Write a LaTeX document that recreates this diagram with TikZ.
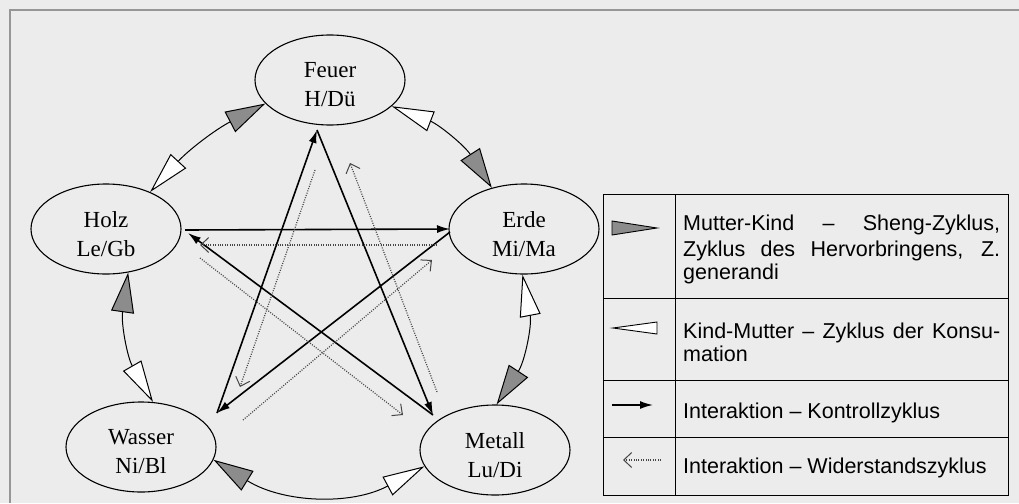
\documentclass[tikz,border=0pt]{standalone}
\usepackage{fontspec}
\setmainfont{Liberation Serif}
\newfontfamily\legfont{Liberation Sans}
\usetikzlibrary{shapes.geometric,arrows.meta}
\definecolor{bg}{RGB}{236,236,236}
\definecolor{shenggray}{RGB}{140,140,140}
\definecolor{dotgray}{RGB}{70,70,70}
\definecolor{framegray}{RGB}{150,150,150}
\begin{document}
\begin{tikzpicture}[x=1pt,y=-1pt,
  elem/.style={draw, ellipse, line width=1.1pt, minimum width=150pt, minimum height=90pt,
    inner sep=0pt},
  etxt/.style={align=center, inner sep=0pt, font=\fontsize{23}{29}\selectfont, yshift=-5pt},
  sheng/.style={line width=1pt,
    {Triangle[length=42pt,width=21pt,fill=white,line width=1pt]}-{Triangle[length=40pt,width=23pt,fill=shenggray,line width=1pt]}},
  ko/.style={line width=1.6pt, -{Latex[length=13pt,width=8pt]}},
  wider/.style={line width=1.2pt, dash pattern=on 1pt off 1.4pt, draw=dotgray,
    -{Straight Barb[length=8pt,width=15pt,line width=1pt]}},
  legtext/.style={font=\legfont\fontsize{21.5}{25}\selectfont, anchor=base west, inner sep=0pt},
  grid/.style={line width=1pt}
]
\fill[bg] (0,0) rectangle (1019,503);
\useasboundingbox (0,0) rectangle (1019,503);
\draw[framegray, line width=1.5pt] (10,503) -- (10,10) -- (1019,10);

% elements
\node[elem, label={[etxt]center:Feuer\\H/Dü}]   (feuer)  at (330,80)  {};
\node[elem, label={[etxt]center:Holz\\Le/Gb}]   (holz)   at (106,229) {};
\node[elem, label={[etxt]center:Erde\\Mi/Ma}]   (erde)   at (524,229) {};
\node[elem, label={[etxt]center:Wasser\\Ni/Bl}] (wasser) at (141,447) {};
\node[elem, label={[etxt]center:Metall\\Lu/Di}] (metall) at (495,450) {};

% Sheng cycle (outer arcs)
\draw[sheng] (holz.40)    to[bend left=10] (feuer.200);
\draw[sheng] (feuer.337)  to[bend left=18] (erde.128);
\draw[sheng] (erde.268)   to[bend left=22] (metall.88);
\draw[sheng] (metall.193) to[bend left=30] (wasser.350);
\draw[sheng] (wasser.75)  to[bend left=19] (holz.297);

% star vertices (control cycle)
\coordinate (fv)  at (317,130);
\coordinate (ev)  at (450,229);
\coordinate (ev2) at (450,232);
\coordinate (mv)  at (433,415);
\coordinate (wv)  at (217,413);
\coordinate (hv)  at (185,230);
\coordinate (hv2) at (188,233);

% control cycle (solid)
\draw[ko] (hv)  -- (ev);
\draw[ko] (ev2) -- (wv);
\draw[ko] (wv)  -- (fv);
\draw[ko] (fv)  -- (mv);
\draw[ko] (mv)  -- (hv2);

% resistance cycle (dotted)
\coordinate (e1) at (437,245); \coordinate (h1) at (200,245);
\coordinate (f1) at (315,170); \coordinate (w1) at (240,387);
\coordinate (m1) at (437,392); \coordinate (f2) at (350,163);
\coordinate (h2) at (200,258); \coordinate (m2) at (403,415);
\coordinate (w2) at (243,420); \coordinate (e2) at (432,260);
\draw[wider] (e1) -- (h1);
\draw[wider] (f1) -- (w1);
\draw[wider] (m1) -- (f2);
\draw[wider] (h2) -- (m2);
\draw[wider] (w2) -- (e2);

% legend
\draw[grid] (603,194) rectangle (1008,495);
\draw[grid] (675,194) -- (675,495);
\draw[grid] (603,298) -- (1008,298);
\draw[grid] (603,380) -- (1008,380);
\draw[grid] (603,437) -- (1008,437);

\draw[fill=shenggray, line width=0.9pt] (612,221) -- (657,228) -- (612,235) -- cycle;
\draw[fill=white, line width=0.9pt] (613,328) -- (657,322) -- (657,334) -- cycle;
\draw[ko] (612,405) -- (653,405);
\draw[wider] (661,460) -- (623,460);

\node[legtext] (t1) at (683,230) {\makebox[317pt][s]{Mutter-Kind – Sheng-Zyklus,}};
\node[legtext] (t2) at (683,256) {\makebox[317pt][s]{Zyklus des Hervorbringens, Z.}};
\node[legtext] (t3) at (683,279) {generandi};
\node[legtext] (t4) at (683,338) {\makebox[317pt][s]{Kind-Mutter – Zyklus der Konsu-}};
\node[legtext] (t5) at (683,361) {mation};
\node[legtext] (t6) at (683,418) {Interaktion – Kontrollzyklus};
\node[legtext] (t7) at (683,473) {Interaktion – Widerstandszyklus};
\end{tikzpicture}
\end{document}
